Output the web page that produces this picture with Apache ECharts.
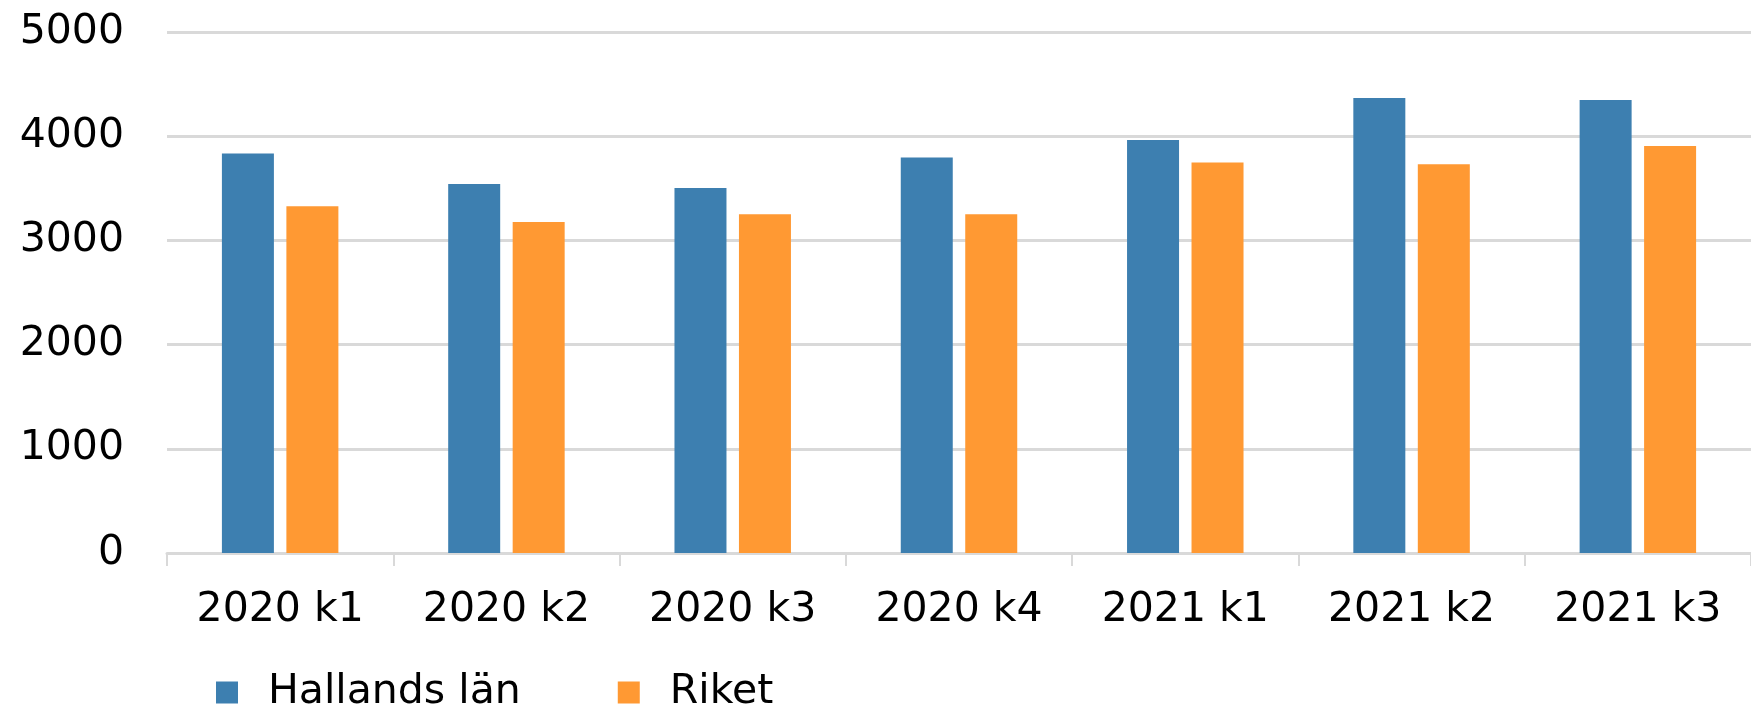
<!DOCTYPE html>
<html>
<head>
<meta charset="utf-8">
<script src="https://cdn.jsdelivr.net/npm/echarts@6/dist/echarts.min.js"></script>
<style>
  html, body { margin: 0; padding: 0; background: #fff; }
  #chart { width: 1751px; height: 714px; }
</style>
</head>
<body>
<div id="chart"></div>
<script>
const categories = ['2020 k1', '2020 k2', '2020 k3', '2020 k4', '2021 k1', '2021 k2', '2021 k3']
const hallandsData = [3833, 3541, 3503, 3795, 3964, 4367, 4347]
const riketData = [3327, 3177, 3250, 3250, 3747, 3730, 3906]
const seriesNames = ['Hallands län', 'Riket']

const chart = echarts.init(document.getElementById('chart'))

const font = 'DejaVu Sans, Verdana, sans-serif'

const option = {
  animation: false,
  backgroundColor: '#ffffff',
  legend: {
    data: seriesNames,
    left: 216,
    top: 672,
    padding: 0,
    itemWidth: 22,
    itemHeight: 22,
    itemGap: 97,
    icon: 'rect',
    textStyle: {
      color: '#000',
      fontSize: 41,
      fontFamily: font,
      padding: [0, 0, 0, 25]
    }
  },
  grid: {
    left: 167,
    right: -8,
    top: 32,
    bottom: 161
  },
  xAxis: {
    type: 'category',
    data: categories,
    axisLine: {
      lineStyle: { color: '#d9d9d9', width: 3 }
    },
    axisTick: {
      show: true,
      length: 13,
      lineStyle: { color: '#d9d9d9', width: 2 }
    },
    axisLabel: {
      color: '#000',
      fontSize: 41,
      fontFamily: font,
      margin: 37
    }
  },
  yAxis: {
    type: 'value',
    min: 0,
    max: 5000,
    interval: 1000,
    axisLine: { show: false },
    axisTick: { show: false },
    axisLabel: {
      color: '#000',
      fontSize: 41,
      fontFamily: font,
      margin: 43,
      formatter: v => String(v)
    },
    splitLine: {
      lineStyle: { color: '#d9d9d9', width: 3 }
    }
  },
  series: [
    {
      name: seriesNames[0],
      type: 'bar',
      data: hallandsData,
      barWidth: 52,
      barGap: '24%',
      itemStyle: { color: '#3d7fb0' }
    },
    {
      name: seriesNames[1],
      type: 'bar',
      data: riketData,
      barWidth: 52,
      itemStyle: { color: '#ff9933' }
    }
  ]
}

chart.setOption(option)
</script>
</body>
</html>
